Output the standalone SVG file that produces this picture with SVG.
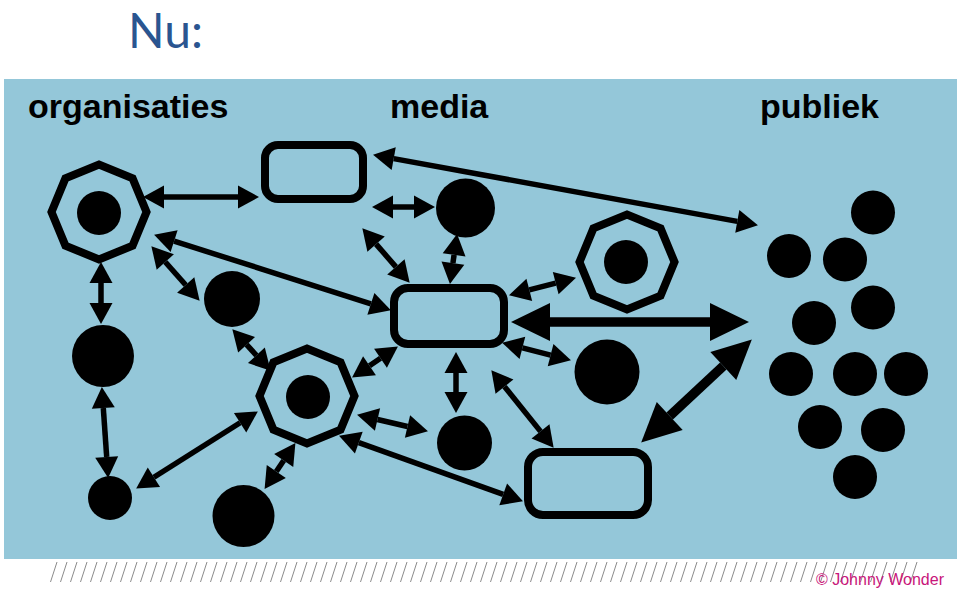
<svg xmlns="http://www.w3.org/2000/svg" width="960" height="595" viewBox="0 0 960 595">
<style>
.lbl{font-family:"Liberation Sans",Arial,sans-serif;font-weight:bold;font-size:34px;fill:#000}
.dot{fill:#000}
.oct{fill:none;stroke:#000;stroke-width:8;stroke-linejoin:miter}
.box{fill:none;stroke:#000;stroke-width:8}
.a{stroke:#000;stroke-width:5.5;fill:none;marker-start:url(#hs);marker-end:url(#hs)}
.A{stroke:#000;stroke-width:9.5;fill:none;marker-start:url(#hb);marker-end:url(#hb)}
</style>
<defs>
<marker id="hs" markerUnits="userSpaceOnUse" markerWidth="22" markerHeight="24" refX="0" refY="11.5" orient="auto-start-reverse" overflow="visible">
<path d="M0,0 L21,11.5 L0,23 z" fill="#000"/>
</marker>
<marker id="hb" markerUnits="userSpaceOnUse" markerWidth="40" markerHeight="40" refX="0" refY="19" orient="auto-start-reverse" overflow="visible">
<path d="M0,0 L39,19 L0,38 z" fill="#000"/>
</marker>
<polygon id="octShape" points="47.5,0 33.6,33.6 0,47.5 -33.6,33.6 -47.5,0 -33.6,-33.6 0,-47.5 33.6,-33.6"/>
<pattern id="hatch" patternUnits="userSpaceOnUse" x="50" y="562" width="10" height="20">
<line x1="0.5" y1="20" x2="7" y2="0" stroke="#8a8a8a" stroke-width="1"/>
</pattern>
</defs>

<text x="128" y="48" font-family="Lato,'Open Sans',sans-serif" font-size="48" fill="#2a5590">Nu:</text>

<rect x="4" y="79" width="953" height="480" fill="#94c7d9"/>

<text class="lbl" x="28" y="118">organisaties</text>
<text class="lbl" x="390" y="118">media</text>
<text class="lbl" x="760" y="118">publiek</text>

<g id="connectors">
<line class="a" x1="164" y1="197" x2="238" y2="197"/>
<line class="a" x1="101" y1="283" x2="101" y2="303"/>
<line class="a" x1="103.3" y1="408" x2="106.7" y2="457"/>
<line class="a" x1="153.9" y1="477.3" x2="240.1" y2="422.7"/>
<line class="a" x1="165.3" y1="262" x2="185.7" y2="285"/>
<line class="a" x1="174.1" y1="241.1" x2="370.9" y2="303.9"/>
<line class="a" x1="246.6" y1="344.7" x2="256.4" y2="355.3"/>
<line class="a" x1="283.7" y1="460.5" x2="276.3" y2="471.5"/>
<line class="a" x1="369.5" y1="365.7" x2="380.5" y2="358.3"/>
<line class="a" x1="377.5" y1="419.5" x2="407.5" y2="426.5"/>
<line class="a" x1="358.8" y1="442.7" x2="503.2" y2="494.3"/>
<line class="a" x1="456" y1="373" x2="456" y2="392"/>
<line class="a" x1="504.5" y1="386.6" x2="540.5" y2="431.4"/>
<line class="a" x1="522.4" y1="347.9" x2="550.6" y2="355.1"/>
<line class="a" x1="529.3" y1="289.9" x2="555.7" y2="283.1"/>
<line class="A" x1="550" y1="322" x2="710" y2="322"/>
<line class="A" x1="669.7" y1="416" x2="723.3" y2="366"/>
<line class="a" x1="393.7" y1="158.6" x2="737.3" y2="221.4"/>
<line class="a" x1="393" y1="207" x2="414" y2="207"/>
<line class="a" x1="454.1" y1="254.8" x2="452.9" y2="263.2"/>
<line class="a" x1="376.1" y1="244.1" x2="395.9" y2="266.9"/>
</g>

<g id="org-octagon-1"><use href="#octShape" class="oct" x="99" y="212"/><circle class="dot" cx="99" cy="213" r="22"/></g>
<g id="org-circle-1"><circle class="dot" cx="103" cy="356" r="31"/></g>
<g id="org-circle-2"><circle class="dot" cx="110" cy="498" r="22"/></g>
<g id="org-circle-3"><circle class="dot" cx="232" cy="299" r="28"/></g>
<g id="org-octagon-2"><use href="#octShape" class="oct" x="307" y="396"/><circle class="dot" cx="308" cy="397" r="22"/></g>
<g id="org-circle-4"><circle class="dot" cx="243.5" cy="516" r="31"/></g>

<g id="media-rect-1"><rect class="box" x="265" y="145" width="98" height="54" rx="13"/></g>
<g id="media-circle-1"><circle class="dot" cx="465.5" cy="208" r="29.5"/></g>
<g id="media-rect-2"><rect class="box" x="394" y="288" width="110" height="56" rx="14"/></g>
<g id="media-octagon"><use href="#octShape" class="oct" x="627" y="262"/><circle class="dot" cx="626" cy="262" r="22"/></g>
<g id="media-circle-2"><circle class="dot" cx="607" cy="372" r="32.5"/></g>
<g id="media-circle-3"><circle class="dot" cx="464.5" cy="443" r="27.5"/></g>
<g id="media-rect-3"><rect class="box" x="528" y="452" width="120" height="63" rx="15" stroke-width="10"/></g>

<g id="publiek">
<circle class="dot" cx="873" cy="212.5" r="22"/>
<circle class="dot" cx="789" cy="256" r="22"/>
<circle class="dot" cx="845" cy="259.5" r="22"/>
<circle class="dot" cx="873" cy="307.5" r="22"/>
<circle class="dot" cx="814" cy="323" r="22"/>
<circle class="dot" cx="791" cy="374" r="22"/>
<circle class="dot" cx="855" cy="374" r="22"/>
<circle class="dot" cx="906" cy="374" r="22"/>
<circle class="dot" cx="820" cy="427" r="22"/>
<circle class="dot" cx="883" cy="430" r="22"/>
<circle class="dot" cx="855" cy="477" r="22"/>
</g>

<rect x="50" y="562" width="868" height="20" fill="url(#hatch)"/>
<text x="944" y="585" text-anchor="end" font-family="'Liberation Sans',Arial,sans-serif" font-size="16" fill="#c8157a">© Johnny Wonder</text>
</svg>
